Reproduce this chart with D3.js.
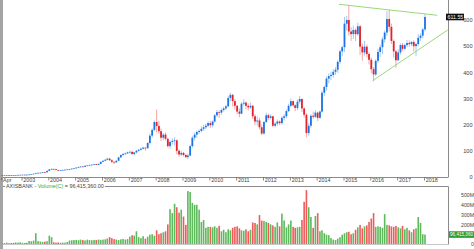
<!DOCTYPE html>
<html>
<head>
<meta charset="utf-8">
<script src="https://cdn.jsdelivr.net/npm/d3@7"></script>
<style>
  html, body { margin: 0; padding: 0; background: #fff; overflow: hidden; }
  svg { display: block; font-family: "Liberation Sans", Arial, sans-serif; }
</style>
</head>
<body>
<svg id="chart" width="474" height="249"></svg>
<script>
// monthly candles from Apr 2002, each open is the previous close
const firstMonth = new Date(2002, 3, 1)
const firstOpen = 6.8
const closes = [
  7.0, 7.3, 7.6, 7.2, 7.0, 6.8, 7.4, 8.0, 8.5,
  8.8, 8.4, 8.9, 9.6, 11.0, 12.5, 14.8, 16.0, 16.5, 18.5, 18.0, 23.5,
  29, 31, 30, 27, 25, 26, 27, 28, 29, 30, 32, 33,
  36, 38, 40, 39, 43, 44, 46, 47, 49, 46, 50, 58,
  62, 66, 70, 64, 58, 56, 62, 75, 84, 88, 90, 94,
  96, 88, 94, 100, 104, 108, 112, 110, 130, 158, 180, 210,
  195, 175, 150, 162, 146, 118, 134, 138, 140, 100, 86, 92,
  84, 76, 82, 118, 150, 162, 172, 176, 184, 190, 196, 206,
  198, 212, 236, 248, 246, 256, 262, 270, 302, 314, 290, 272,
  250, 242, 280, 284, 272, 266, 272, 232, 212, 216, 190, 166,
  210, 236, 226, 232, 196, 204, 212, 206, 226, 232, 252, 272,
  290, 274, 264, 288, 298, 262, 238, 168, 196, 234, 230, 246,
  226, 250, 322, 344, 376, 386, 390, 402, 410, 440, 480, 496,
  586, 600, 556, 546, 562, 546, 576, 498, 476, 498, 470, 448,
  412, 392, 444, 478, 496, 526, 552, 604, 574, 520, 480, 446,
  476, 504, 490, 504, 512, 508, 516, 500, 508, 532, 540, 564,
  611.55,
]
const highs = [
  7.4, 7.6, 7.9, 7.8, 7.4, 7.2, 7.7, 8.3, 8.9,
  9.3, 9.1, 9.2, 9.9, 11.4, 13.0, 15.5, 17.2, 17.4, 19.2, 19.6, 24.2,
  30.5, 32.5, 32, 31, 28, 27, 28, 29, 30, 31, 33, 34.5,
  37, 39.5, 41, 41, 44, 45.5, 47, 48.5, 50, 50, 51, 59,
  64, 68, 73, 74, 68, 60, 64, 77, 86, 92, 94, 97,
  102, 100, 96, 103, 107, 112, 116, 114, 133, 166, 186, 216,
  258, 215, 185, 168, 170, 150, 140, 148, 152, 144, 106, 100,
  96, 88, 90, 124, 156, 170, 178, 182, 192, 200, 204, 212,
  214, 216, 240, 256, 254, 262, 268, 276, 310, 322, 318, 298,
  276, 262, 286, 298, 290, 282, 284, 276, 240, 232, 226, 200,
  214, 246, 242, 240, 234, 210, 220, 216, 232, 240, 258, 280,
  300, 292, 278, 296, 310, 300, 266, 244, 206, 240, 250, 256,
  250, 254, 330, 350, 384, 396, 402, 412, 420, 446, 486, 502,
  612, 616, 655, 572, 578, 568, 590, 582, 510, 520, 506, 476,
  456, 420, 450, 490, 506, 536, 560, 634, 638, 586, 526, 486,
  488, 510, 512, 510, 524, 522, 520, 522, 512, 546, 548, 570,
  624,
]
const lows = [
  6.5, 6.8, 7.1, 7.0, 6.8, 6.5, 6.7, 7.3, 7.8,
  8.2, 8.1, 8.1, 8.7, 9.4, 10.8, 12.2, 14.2, 15.0, 16.0, 17.2, 17.6,
  23, 28, 28.5, 26.5, 22, 24, 25, 26.5, 27, 28, 29.5, 31,
  32, 35, 37, 38, 38.5, 42, 43, 45, 46, 45, 45.5, 49.5,
  56, 60, 64, 62, 52, 50, 54, 61, 73, 81, 85, 88,
  90, 85, 82, 90, 97, 101, 105, 100, 108, 124, 150, 175,
  170, 165, 138, 140, 140, 112, 108, 124, 120, 86, 78, 80,
  78, 72, 68, 80, 112, 140, 150, 164, 170, 176, 182, 190,
  188, 190, 208, 230, 226, 238, 250, 256, 266, 290, 270, 258,
  240, 228, 240, 272, 258, 254, 260, 222, 198, 196, 182, 160,
  162, 206, 218, 220, 190, 190, 196, 198, 200, 216, 226, 248,
  268, 268, 252, 256, 280, 248, 226, 152, 158, 188, 222, 226,
  214, 222, 246, 310, 330, 358, 370, 380, 390, 398, 432, 462,
  478, 560, 540, 520, 528, 520, 540, 466, 444, 464, 458, 430,
  396, 366, 386, 436, 458, 470, 514, 540, 556, 508, 456, 418,
  444, 468, 482, 486, 496, 498, 500, 480, 462, 500, 520, 530,
  556,
]
// monthly volume, millions of shares
const volumes = [
  12, 10, 14, 8, 10, 12, 16, 14, 18,
  12, 10, 14, 30, 28, 35, 110, 30, 25, 22, 24, 28,
  85, 70, 18, 14, 16, 12, 15, 14, 20, 35, 38, 40,
  42, 38, 45, 40, 36, 44, 40, 38, 42, 40, 45, 42,
  45, 48, 55, 70, 60, 50, 45, 40, 48, 52, 45, 50,
  75, 90, 85, 130, 70, 60, 80, 55, 75, 95, 100, 85,
  140, 100, 110, 120, 130, 200, 355, 315, 410, 375, 320, 350,
  280, 195, 540, 530, 420, 400, 400, 350, 225, 245, 165, 175,
  175, 170, 180, 165, 185, 130, 145, 120, 150, 140, 165, 175,
  180, 160, 140, 135, 150, 130, 145, 220, 215, 200, 295, 240,
  235, 225, 215, 200, 190, 175, 220, 180, 310, 240, 170, 200,
  240, 175, 165, 170, 175, 245, 430, 550, 375, 275, 165, 285,
  315, 130, 140, 110, 95, 90, 60, 45, 40, 55, 70, 95,
  110, 120, 125, 100, 110, 145, 170, 195, 160, 180, 190, 225,
  260, 315, 175, 180, 175, 165, 305, 195, 190, 180, 175, 185,
  170, 160, 185, 150, 165, 140, 120, 150, 160, 275, 215, 100,
  96.41536,
]
const lastVolumeLabel = '96,415,360.00'
const lastVolumeTag = '96,415,360'
const xTickDates = [new Date(2002, 3, 1)].concat(d3.range(2003, 2019).map((yr) => new Date(yr, 0, 1)))
const priceTicks = [0, 100, 200, 300, 400, 500, 600]
// 100M sits under the last-volume tag, so it is not shown
const volumeTicks = [0, 200, 300, 400, 500]
// trend lines drawn on the chart, [date, price]
const resistance = [[new Date(2014, 10, 1), 660], [new Date(2018, 6, 1), 618]]
const support = [[new Date(2016, 1, 1), 368], [new Date(2018, 10, 20), 562]]

const candles = closes.map((c, i) => ({
  date: new Date(firstMonth.getFullYear(), firstMonth.getMonth() + i, 1),
  open: i === 0 ? firstOpen : closes[i - 1],
  close: c,
  high: highs[i],
  low: lows[i],
  volume: volumes[i],
}))
const last = candles[candles.length - 1]

const colors = {
  up: '#1c74e4',
  upWick: '#8cbaf0',
  down: '#e3222b',
  downWick: '#f09090',
  volUp: '#5db95b',
  volDown: '#ef5b5b',
  frame: '#8a8a8a',
  text: '#444',
  trend: '#8fd36c',
}

const svg = d3.select('#chart')
const priceBottom = 177
const volTop = 186.5
const volBottom = 244.5
const plotRight = 448.5

const x = d3.scaleTime()
  .domain([new Date(2003, 0, 1), new Date(2018, 0, 1)])
  .range([21.5, 424])
const y = d3.scaleLinear().domain([0, 600]).range([priceBottom, 20])
const yVol = d3.scaleLinear().domain([0, 500]).range([244, 195])
const cx = (d) => x(d.date) + 1

// window edge strip
svg.append('rect')
  .attr('x', 0).attr('y', 0)
  .attr('width', 3).attr('height', 249)
  .attr('fill', '#a4a4a4')

// price panel frame
const frame = svg.append('g')
  .attr('stroke', colors.frame)
  .attr('stroke-width', 1)
frame.append('line')
  .attr('x1', plotRight).attr('x2', plotRight)
  .attr('y1', 0).attr('y2', priceBottom)
frame.append('line')
  .attr('x1', 3).attr('x2', plotRight)
  .attr('y1', priceBottom + 0.5).attr('y2', priceBottom + 0.5)

// candles
const candleG = svg.append('g')
candleG.selectAll('.wick')
  .data(candles)
  .enter()
  .append('line')
  .attr('class', 'wick')
  .attr('x1', cx).attr('x2', cx)
  .attr('y1', (d) => y(d.high))
  .attr('y2', (d) => y(d.low))
  .attr('stroke', (d) => d.close >= d.open ? colors.upWick : colors.downWick)
  .attr('stroke-width', 0.8)
candleG.selectAll('.body')
  .data(candles)
  .enter()
  .append('rect')
  .attr('class', 'body')
  .attr('x', (d) => cx(d) - 0.9)
  .attr('width', 1.8)
  .attr('y', (d) => y(Math.max(d.open, d.close)))
  .attr('height', (d) => Math.max(0.7, Math.abs(y(d.open) - y(d.close))))
  .attr('fill', (d) => d.close >= d.open ? colors.up : colors.down)

// trend lines
const trendLine = d3.line()
  .x((d) => x(d[0]))
  .y((d) => y(d[1]))
svg.selectAll('.trend')
  .data([resistance, support])
  .enter()
  .append('path')
  .attr('class', 'trend')
  .attr('d', trendLine)
  .attr('fill', 'none')
  .attr('stroke', colors.trend)
  .attr('stroke-width', 0.9)

// x axis
const xAxis = svg.append('g')
  .attr('transform', `translate(0, ${priceBottom + 0.5})`)
  .call(d3.axisBottom(x)
    .tickValues(xTickDates)
    .tickSize(3)
    .tickFormat((d, i) => i === 0 ? 'Apr' : d3.timeFormat('%Y')(d)))
xAxis.select('.domain').remove()
xAxis.selectAll('.tick line').attr('stroke', '#555').attr('stroke-width', 0.7)
xAxis.selectAll('.tick text')
  .attr('y', 0.6)
  .attr('x', 1.3)
  .attr('text-anchor', 'start')
  .attr('font-size', '5.4px')
  .attr('fill', colors.text)
  .attr('font-family', null)

// price axis
const yAxis = svg.append('g')
  .attr('transform', 'translate(472.5, 0)')
  .call(d3.axisRight(y).tickValues(priceTicks).tickSize(0).tickFormat(d3.format('d')))
yAxis.select('.domain').remove()
yAxis.selectAll('.tick text')
  .attr('x', 0)
  .attr('text-anchor', 'end')
  .attr('font-size', '5.6px')
  .attr('fill', colors.text)
  .attr('font-family', null)

// last price tag
const tagY = y(last.close)
svg.append('rect')
  .attr('x', 446).attr('y', tagY - 3.3)
  .attr('width', 18).attr('height', 6.6)
  .attr('fill', '#111')
svg.append('text')
  .attr('x', 447.5).attr('y', tagY + 1.9)
  .attr('font-size', '5.3px')
  .attr('fill', '#fff')
  .text(d3.format('.2f')(last.close))

// volume panel frame
const volFrame = svg.append('g')
  .attr('stroke', colors.frame)
  .attr('stroke-width', 1)
  .attr('fill', 'none')
volFrame.append('path')
  .attr('d', `M3,${volTop}H${plotRight}V${volBottom}`)
volFrame.append('line')
  .attr('x1', 3).attr('x2', plotRight)
  .attr('y1', volBottom).attr('y2', volBottom)
  .attr('stroke', '#c8c8c8')

// volume title over the frame line
const titleBg = svg.append('rect').attr('fill', '#fff')
const title = svg.append('text')
  .attr('x', 6).attr('y', volTop + 1.9)
  .attr('font-size', '5.4px')
  .attr('fill', colors.text)
title.append('tspan').text('AXISBANK - ')
title.append('tspan').attr('fill', '#3aa83a').text('Volume(C)')
title.append('tspan').text(' = ' + lastVolumeLabel)
const tb = title.node().getBBox()
titleBg
  .attr('x', tb.x - 1).attr('y', volTop - 2)
  .attr('width', tb.width + 2).attr('height', 4)

// volume bars
svg.append('g')
  .selectAll('rect')
  .data(candles)
  .enter()
  .append('rect')
  .attr('x', (d) => cx(d) - 0.8)
  .attr('width', 1.6)
  .attr('y', (d) => yVol(d.volume))
  .attr('height', (d) => yVol(0) - yVol(d.volume))
  .attr('fill', (d) => d.close >= d.open ? colors.volUp : colors.volDown)

// volume axis
const vAxis = svg.append('g')
  .attr('transform', 'translate(474, 0)')
  .call(d3.axisRight(yVol).tickValues(volumeTicks).tickSize(0)
    .tickFormat((d) => d === 0 ? '0' : d + 'M'))
vAxis.select('.domain').remove()
vAxis.selectAll('.tick text')
  .attr('x', 0)
  .attr('text-anchor', 'end')
  .attr('font-size', '5.2px')
  .attr('fill', colors.text)
  .attr('font-family', null)

// last volume tag
const vTagY = yVol(last.volume)
svg.append('rect')
  .attr('x', 449).attr('y', vTagY - 3.3)
  .attr('width', 25).attr('height', 6.6)
  .attr('fill', '#2f9c2f')
svg.append('text')
  .attr('x', 450).attr('y', vTagY + 1.9)
  .attr('font-size', '4.6px')
  .attr('fill', '#fff')
  .text(lastVolumeTag)
</script>
</body>
</html>
